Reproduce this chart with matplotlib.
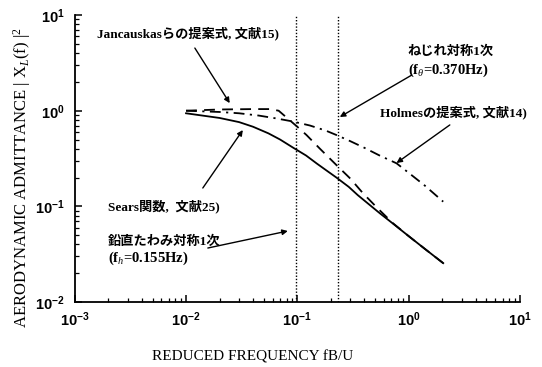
import matplotlib
matplotlib.use("Agg")
import matplotlib.pyplot as plt
from matplotlib.ticker import LogLocator, NullFormatter

plt.rcParams["mathtext.fontset"] = "custom"
plt.rcParams["mathtext.rm"] = "Liberation Serif"
plt.rcParams["mathtext.it"] = "Liberation Serif:italic"
plt.rcParams["mathtext.bf"] = "Liberation Serif:bold"

# Sears function (solid)
sears_f = [0.01, 0.015, 0.02, 0.03, 0.04, 0.055, 0.07, 0.092, 0.12, 0.15,
           0.19, 0.225, 0.29, 0.35, 0.45, 0.55, 0.75, 1.0, 1.4, 2.05]
sears_x = [0.94, 0.88, 0.84, 0.76, 0.68, 0.58, 0.50, 0.41, 0.34, 0.28,
           0.23, 0.20, 0.16, 0.131, 0.103, 0.085, 0.064, 0.049, 0.036, 0.0255]

# Jancauskas et al. proposal (dashed)
janc_f = [0.01, 0.02, 0.04, 0.057, 0.068, 0.08, 0.1, 0.121, 0.16, 0.225,
          0.3, 0.39, 0.53, 0.726, 1.0, 1.4, 2.05]
janc_x = [1.0, 1.03, 1.04, 1.04, 1.0, 0.85, 0.68, 0.557, 0.40, 0.27,
          0.195, 0.137, 0.095, 0.0665, 0.049, 0.036, 0.0255]

# Holmes proposal (dash-dot)
holmes_f = [0.01, 0.02, 0.03, 0.045, 0.065, 0.092, 0.13, 0.18, 0.225, 0.3,
            0.4, 0.55, 0.78, 1.05, 1.4, 2.05]
holmes_x = [1.0, 0.97, 0.94, 0.89, 0.83, 0.77, 0.70, 0.62, 0.557, 0.48,
            0.41, 0.34, 0.282, 0.215, 0.165, 0.112]

# Reduced frequencies of the first symmetric vertical / torsional modes
mode_freqs = [0.097, 0.232]

fig = plt.figure(figsize=(5.42, 3.67), dpi=100)
ax = fig.add_axes([0.138, 0.177, 0.821, 0.782])

ax.plot(sears_f, sears_x, color="black", lw=1.3, ls="-")
ax.plot(janc_f, janc_x, color="black", lw=1.3, ls=(0, (6, 4)))
ax.plot(holmes_f, holmes_x, color="black", lw=1.3, ls=(0, (6, 3, 1.2, 3)))
for fm in mode_freqs:
    ax.axvline(fm, color="black", lw=1.0, ls=(0, (1, 1.3)))

ax.set_xscale("log")
ax.set_yscale("log")
ax.set_xlim(1e-3, 1e1)
ax.set_ylim(1e-2, 1e1)

for s in ("top", "right"):
    ax.spines[s].set_visible(False)
for s in ("left", "bottom"):
    ax.spines[s].set_linewidth(1.3)

ax.xaxis.set_major_locator(LogLocator(base=10, numticks=10))
ax.yaxis.set_major_locator(LogLocator(base=10, numticks=10))
ax.xaxis.set_minor_locator(LogLocator(base=10, subs=range(2, 10), numticks=20))
ax.yaxis.set_minor_locator(LogLocator(base=10, subs=range(2, 10), numticks=20))
ax.xaxis.set_minor_formatter(NullFormatter())
ax.yaxis.set_minor_formatter(NullFormatter())
ax.tick_params(which="major", direction="in", length=5, width=1.1,
               labelsize=10.5)
ax.tick_params(axis="x", which="major", pad=6)
ax.tick_params(axis="y", which="major", pad=7)
ax.tick_params(which="minor", direction="in", length=3, width=0.9)
for lab in ax.get_xticklabels() + ax.get_yticklabels():
    lab.set_fontfamily("Liberation Sans")
    lab.set_fontweight("bold")

fig.text(0.467, 0.027, "REDUCED FREQUENCY fB/U", family="Liberation Serif",
         fontsize=11, ha="center", va="center")
fig.text(0.041, 0.515, "AERODYNAMIC ADMITTANCE | X$_L$(f) |$^2$",
         family="Liberation Serif", fontsize=12, rotation=90,
         ha="center", va="center")

jp = ["Liberation Serif", "Noto Sans CJK JP"]
arrow = dict(arrowstyle="-|>", color="black", lw=1.0, mutation_scale=8,
             shrinkA=0, shrinkB=0)
jp_size = 9.5
par_size = 10.5

ax.text(0.00158, 6.5, "Jancauskasらの提案式, 文献15)", family=jp,
        fontweight="bold", fontsize=jp_size, va="center")
ax.annotate("", xy=(0.0247, 1.20), xytext=(0.0120, 4.52), arrowprops=arrow)

ax.text(0.98, 4.1, "ねじれ対称1次", family=jp, fontweight="bold",
        fontsize=jp_size, va="center")
ax.text(0.98, 2.66, "(f$_\\theta$=0.370Hz)", family="Liberation Serif",
        fontweight="bold", fontsize=par_size, va="center")
ax.annotate("", xy=(0.241, 0.86), xytext=(1.07, 2.36), arrowprops=arrow)

ax.text(0.552, 0.97, "Holmesの提案式, 文献14)", family=jp,
        fontweight="bold", fontsize=jp_size, va="center")
ax.annotate("", xy=(0.78, 0.284), xytext=(2.35, 0.71), arrowprops=arrow)

ax.text(0.00198, 0.101, "Sears関数,  文献25)", family=jp,
        fontweight="bold", fontsize=jp_size, va="center")
ax.annotate("", xy=(0.0324, 0.628), xytext=(0.01415, 0.1556), arrowprops=arrow)

ax.text(0.00198, 0.0425, "鉛直たわみ対称1次", family=jp, fontweight="bold",
        fontsize=jp_size, va="center")
ax.text(0.00198, 0.0289, "(f$_h$=0.155Hz)", family="Liberation Serif",
        fontweight="bold", fontsize=par_size, va="center")
ax.annotate("", xy=(0.0822, 0.0553), xytext=(0.0157, 0.0367), arrowprops=arrow)

fig.savefig("out.png", dpi=100)
